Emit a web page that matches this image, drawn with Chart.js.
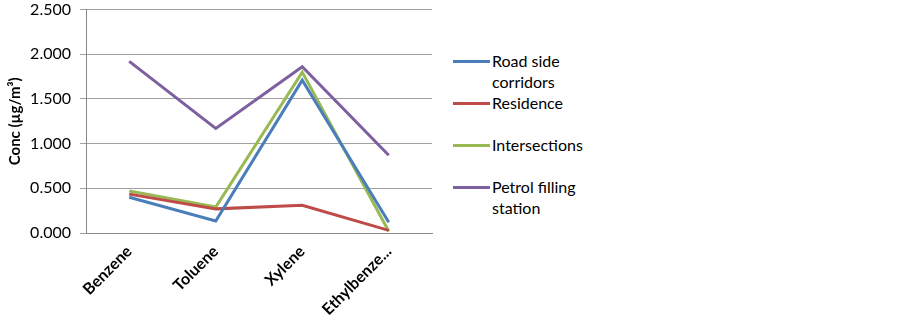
<!DOCTYPE html>
<html>
<head>
<meta charset="utf-8">
<script src="https://cdn.jsdelivr.net/npm/chart.js@4"></script>
<style>
  body { margin: 0; background: #fff; font-family: Lato, sans-serif; overflow: hidden; }
  #wrap { position: relative; width: 900px; height: 315px; overflow: hidden; }
  #chartBox { position: absolute; left: 0; top: -9px; width: 440px; height: 324px; }
  #legend { position: absolute; left: 453px; top: 50px; font-size: 16px; color: #000; }
  .item { position: absolute; left: 0; width: 170px; line-height: 21px; }
  .item .swatch { position: absolute; left: 0; top: 10px; width: 37px; height: 3px; }
  .item .txt { position: absolute; left: 39px; top: 0; }
</style>
</head>
<body>
<div id="wrap">
  <div id="chartBox"><canvas id="chartConc"></canvas></div>
  <div id="legend"></div>
</div>
<script>
const categories = ['Benzene', 'Toluene', 'Xylene', 'Ethylbenze...'];
const seriesNames = [['Road side', 'corridors'], ['Residence'], ['Intersections'], ['Petrol filling', 'station']];
const roadSide = [0.40, 0.135, 1.71, 0.12];
const residence = [0.435, 0.27, 0.31, 0.03];
const intersections = [0.47, 0.29, 1.80, 0.02];
const petrolStation = [1.92, 1.17, 1.86, 0.87];
const seriesColors = ['#4A7EBB', '#BE4B48', '#98B954', '#7D60A0'];
const yTicks = [0, 0.5, 1, 1.5, 2, 2.5];

const seriesValues = [roadSide, residence, intersections, petrolStation];

const datasets = seriesValues.map((values, i) => ({
  label: seriesNames[i].join(' '),
  data: values,
  borderColor: seriesColors[i],
  backgroundColor: seriesColors[i],
  borderWidth: 3,
  pointRadius: 0,
  tension: 0,
}));

new Chart(document.getElementById('chartConc').getContext('2d'), {
  type: 'line',
  data: { labels: categories, datasets },
  options: {
    responsive: true,
    maintainAspectRatio: false,
    animation: false,
    layout: { padding: { top: 0, right: 8, left: 0, bottom: 0 } },
    plugins: { legend: { display: false }, tooltip: { enabled: false } },
    scales: {
      x: {
        offset: true,
        grid: { display: false, drawTicks: false },
        border: { color: '#888888', width: 1 },
        afterFit: (axis) => { axis.height = 82; },
        ticks: {
          minRotation: 45,
          maxRotation: 45,
          padding: 9,
          color: '#000',
          font: { family: 'Lato', size: 16, weight: 'bold' },
        },
      },
      y: {
        min: 0,
        max: 2.5,
        afterBuildTicks: (axis) => { axis.ticks = yTicks.map((v) => ({ value: v })); },
        afterFit: (axis) => { axis.width = 86; },
        grid: { color: '#A0A0A0', tickLength: 6, tickColor: '#A0A0A0' },
        border: { color: '#888888', width: 1 },
        ticks: {
          color: '#000',
          padding: 9,
          font: { family: 'Lato', size: 16 },
          callback: (v) => Number(v).toFixed(3),
        },
        title: {
          display: true,
          text: 'Conc (µg/m³)',
          color: '#000',
          padding: { top: 6, bottom: 4 },
          font: { family: 'Lato', size: 15, weight: 'bold' },
        },
      },
    },
  },
});

// legend on the right
const legendTops = [0, 42, 84, 126];
const legend = document.getElementById('legend');
seriesNames.forEach((lines, i) => {
  const item = document.createElement('div');
  item.className = 'item';
  item.style.top = legendTops[i] + 'px';
  item.innerHTML = `<div class="swatch" style="background:${seriesColors[i]}"></div>` +
    `<div class="txt">${lines.join('<br>')}</div>`;
  legend.appendChild(item);
});
</script>
</body>
</html>
